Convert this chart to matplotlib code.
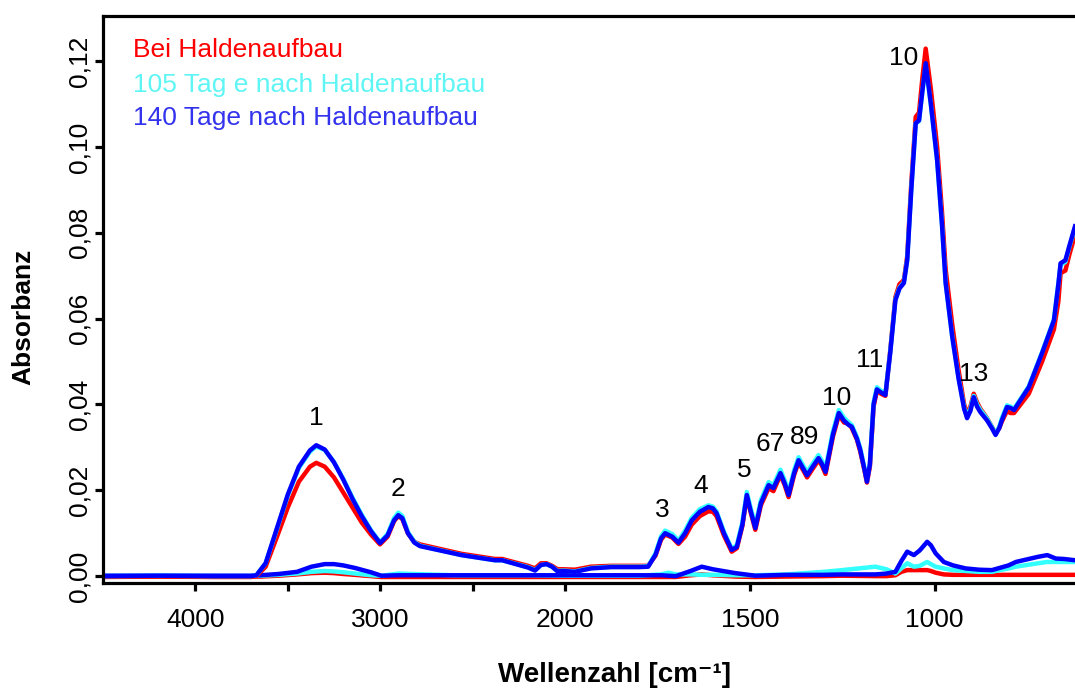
import numpy as np
import matplotlib
matplotlib.use("Agg")
import matplotlib.pyplot as plt

plt.rcParams['font.family'] = ['Liberation Sans', 'DejaVu Sans']

# ---------------- data ----------------
wn_main = [4500, 4200, 3900, 3700, 3670, 3620, 3560, 3500, 3440, 3380, 3346, 3300, 3250, 3200,
           3150, 3100, 3050, 3001, 2960, 2925, 2902, 2880, 2850, 2815, 2785, 2560, 2379, 2340,
           2200, 2162, 2130, 2100, 2070, 2040, 2010, 1973, 1930, 1875, 1800, 1775, 1755, 1740,
           1729, 1710, 1693, 1675, 1657, 1635, 1612, 1600, 1590, 1570, 1549, 1535, 1520, 1508,
           1497, 1485, 1470, 1449, 1436, 1417, 1405, 1395, 1380, 1368, 1355, 1345, 1332, 1314,
           1305, 1295, 1275, 1259, 1245, 1232, 1224, 1210, 1201, 1190, 1183, 1175, 1165, 1156,
           1145, 1133, 1120, 1106, 1095, 1083, 1074, 1063, 1051, 1042, 1033, 1024, 1010, 993,
           980, 970, 952, 935, 920, 912, 903, 894, 885, 876, 858, 845, 835, 825, 818, 804, 795,
           785, 745, 709, 677, 665, 659, 646, 635, 620]

blue_main = [0.0000, 0.0001, 0.0000, 0.0000, 0.0002, 0.0030, 0.0110, 0.0190, 0.0255, 0.0293, 0.0305, 0.0295, 0.0265, 0.0225,
             0.0180, 0.0140, 0.0105, 0.0077, 0.0095, 0.0130, 0.0142, 0.0135, 0.0100, 0.0078, 0.0070, 0.0049, 0.0037, 0.0037,
             0.0020, 0.0013, 0.0026, 0.0028, 0.0022, 0.0011, 0.0012, 0.0010, 0.0018, 0.0021, 0.0021, 0.0022, 0.0050, 0.0088,
             0.0100, 0.0092, 0.0078, 0.0100, 0.0130, 0.0150, 0.0161, 0.0158, 0.0147, 0.0100, 0.0061, 0.0068, 0.0120, 0.0189,
             0.0150, 0.0112, 0.0170, 0.0212, 0.0205, 0.0240, 0.0215, 0.0189, 0.0240, 0.0270, 0.0250, 0.0235, 0.0252, 0.0275,
             0.0262, 0.0243, 0.0330, 0.0380, 0.0362, 0.0352, 0.0348, 0.0320, 0.0294, 0.0250, 0.0220, 0.0260, 0.0400, 0.0435,
             0.0428, 0.0422, 0.0520, 0.0643, 0.0670, 0.0683, 0.0736, 0.0900, 0.1055, 0.1062, 0.1130, 0.1195, 0.1100, 0.0969,
             0.0820, 0.0683, 0.0557, 0.0460, 0.0390, 0.0368, 0.0385, 0.0417, 0.0395, 0.0382, 0.0363, 0.0345, 0.0329, 0.0345, 0.0363, 0.0394, 0.0392,
             0.0387, 0.0440, 0.0520, 0.0596, 0.0680, 0.0729, 0.0736, 0.0770, 0.0815]

cyan_main = [0.0000, 0.0001, 0.0000, 0.0000, 0.0002, 0.0030, 0.0108, 0.0188, 0.0252, 0.0290, 0.0302, 0.0294, 0.0266, 0.0227,
             0.0183, 0.0143, 0.0107, 0.0079, 0.0098, 0.0135, 0.0148, 0.0140, 0.0103, 0.0080, 0.0071, 0.0049, 0.0037, 0.0037,
             0.0021, 0.0014, 0.0026, 0.0028, 0.0022, 0.0012, 0.0013, 0.0011, 0.0019, 0.0022, 0.0022, 0.0023, 0.0053, 0.0093,
             0.0106, 0.0098, 0.0083, 0.0106, 0.0136, 0.0156, 0.0165, 0.0162, 0.0151, 0.0104, 0.0064, 0.0072, 0.0126, 0.0196,
             0.0157, 0.0118, 0.0177, 0.0219, 0.0212, 0.0248, 0.0222, 0.0195, 0.0247, 0.0277, 0.0257, 0.0242, 0.0259, 0.0282,
             0.0269, 0.0250, 0.0337, 0.0387, 0.0369, 0.0358, 0.0352, 0.0324, 0.0298, 0.0253, 0.0223, 0.0264, 0.0405, 0.0440,
             0.0432, 0.0425, 0.0522, 0.0645, 0.0672, 0.0685, 0.0738, 0.0902, 0.1055, 0.1060, 0.1128, 0.1190, 0.1098, 0.0968,
             0.0820, 0.0683, 0.0557, 0.0462, 0.0393, 0.0372, 0.0390, 0.0420, 0.0400, 0.0387, 0.0367, 0.0348, 0.0332, 0.0348, 0.0368, 0.0398, 0.0395,
             0.0390, 0.0442, 0.0522, 0.0598, 0.0682, 0.0725, 0.0732, 0.0768, 0.0812]

red_main = [-0.0002, -0.0001, -0.0002, -0.0002, 0.0000, 0.0022, 0.0090, 0.0160, 0.0220, 0.0255, 0.0264, 0.0255, 0.0230, 0.0195,
            0.0160, 0.0125, 0.0097, 0.0074, 0.0092, 0.0128, 0.0140, 0.0133, 0.0100, 0.0080, 0.0074, 0.0052, 0.0040, 0.0040,
            0.0024, 0.0018, 0.0030, 0.0030, 0.0024, 0.0016, 0.0016, 0.0015, 0.0022, 0.0024, 0.0024, 0.0024, 0.0048, 0.0085,
            0.0097, 0.0090, 0.0075, 0.0092, 0.0120, 0.0140, 0.0151, 0.0150, 0.0140, 0.0095, 0.0057, 0.0065, 0.0117, 0.0185,
            0.0147, 0.0108, 0.0165, 0.0205, 0.0198, 0.0236, 0.0211, 0.0184, 0.0236, 0.0265, 0.0246, 0.0230, 0.0247, 0.0270,
            0.0258, 0.0238, 0.0325, 0.0375, 0.0358, 0.0355, 0.0345, 0.0318, 0.0290, 0.0248, 0.0218, 0.0255, 0.0395, 0.0432,
            0.0425, 0.0420, 0.0525, 0.0650, 0.0680, 0.0690, 0.0745, 0.0915, 0.1070, 0.1080, 0.1160, 0.1229, 0.1135, 0.1000,
            0.0850, 0.0715, 0.0585, 0.0480, 0.0400, 0.0378, 0.0395, 0.0425, 0.0405, 0.0390, 0.0368, 0.0348, 0.0333, 0.0345, 0.0360, 0.0385, 0.0380,
            0.0380, 0.0425, 0.0500, 0.0575, 0.0640, 0.0706, 0.0712, 0.0750, 0.0795]

wn_low = [4500, 3700, 3650, 3550, 3450, 3372, 3300, 3250, 3200, 3136, 3050, 2994, 2900, 2600, 2200,
          2000, 1800, 1740, 1720, 1700, 1660, 1630, 1600, 1539, 1485, 1400, 1300, 1250, 1160, 1130,
          1106, 1090, 1074, 1056, 1040, 1020, 1010, 997, 975, 950, 916, 880, 845, 800, 780, 720,
          695, 672, 650, 620]

blue_low = [0.0001, 0.0001, 0.0002, 0.0005, 0.0010, 0.0022, 0.0028, 0.0028, 0.0025, 0.0019, 0.0009, 0.0001, 0.0002, 0.0002, 0.0002,
            0.0002, 0.0002, 0.0002, 0.0001, 0.0000, 0.0012, 0.0022, 0.0016, 0.0007, 0.0001, 0.0003, 0.0003, 0.0004, 0.0004, 0.0006,
            0.0010, 0.0035, 0.0057, 0.0049, 0.0060, 0.0080, 0.0072, 0.0053, 0.0033, 0.0025, 0.0018, 0.0015, 0.0014, 0.0025, 0.0033, 0.0045,
            0.0049, 0.0041, 0.0040, 0.0037]

cyan_low = [0.0000, 0.0000, 0.0001, 0.0003, 0.0006, 0.0010, 0.0012, 0.0011, 0.0009, 0.0006, 0.0002, 0.0001, 0.0006, 0.0002, 0.0002,
            0.0001, 0.0001, 0.0004, 0.0008, 0.0004, 0.0004, 0.0003, 0.0003, 0.0002, 0.0002, 0.0004, 0.0010, 0.0014, 0.0022, 0.0016,
            0.0006, 0.0018, 0.0030, 0.0022, 0.0024, 0.0033, 0.0028, 0.0022, 0.0018, 0.0014, 0.0012, 0.0010, 0.0010, 0.0018, 0.0022, 0.0030,
            0.0033, 0.0033, 0.0033, 0.0033]

red_low = [-0.0001, -0.0001, -0.0001, 0.0001, 0.0004, 0.0007, 0.0008, 0.0007, 0.0005, 0.0003, 0.0000, -0.0002, -0.0002, -0.0002, -0.0002,
           -0.0002, -0.0002, -0.0002, -0.0002, -0.0002, 0.0002, 0.0004, 0.0002, -0.0001, -0.0002, -0.0001, 0.0000, 0.0001, 0.0000, 0.0000,
           0.0002, 0.0010, 0.0014, 0.0014, 0.0014, 0.0014, 0.0012, 0.0008, 0.0004, 0.0003, 0.0003, 0.0003, 0.0003, 0.0003, 0.0003, 0.0003,
           0.0003, 0.0003, 0.0003, 0.0003]

series_names = ["Bei Haldenaufbau", "105 Tag e nach Haldenaufbau", "140 Tage nach Haldenaufbau"]

peak_labels = ["1", "2", "3", "4", "5", "67", "89", "10", "11", "13", "10"]
peak_wn = [3346, 2902, 1736, 1633, 1514, 1444, 1351, 1265, 1177, 894, 1083]
peak_abs = [0.0368, 0.0203, 0.0154, 0.0210, 0.0247, 0.0308, 0.0324, 0.0415, 0.0503, 0.0470, 0.1207]

xticks = [4000, 3500, 3000, 2500, 2000, 1500, 1000]
xtick_labels = ["4000", "", "3000", "", "2000", "1500", "1000"]
yticks = [0.00, 0.02, 0.04, 0.06, 0.08, 0.10, 0.12]
ytick_labels = ["0,00", "0,02", "0,04", "0,06", "0,08", "0,10", "0,12"]

# ---------------- plot ----------------
fig = plt.figure(figsize=(10.75, 6.91), dpi=100)
ax = fig.add_axes([103 / 1075, 108 / 691, 972 / 1075, 567 / 691])


def fwd(w):
    w = np.asarray(w, dtype=float)
    return np.where(w > 2000, 2000 + (w - 2000) / 2.0, w)


def inv(t):
    t = np.asarray(t, dtype=float)
    return np.where(t > 2000, 2000 + (t - 2000) * 2.0, t)


ax.set_xscale('function', functions=(fwd, inv))

c_red, c_cyan, c_blue = '#ff0000', '#33ffff', '#0000ff'
lw = 3.2
ax.plot(wn_low, red_low, color=c_red, lw=lw)
ax.plot(wn_low, cyan_low, color=c_cyan, lw=lw)
ax.plot(wn_low, blue_low, color=c_blue, lw=lw)
ax.plot(wn_main, red_main, color=c_red, lw=lw)
ax.plot(wn_main, cyan_main, color=c_cyan, lw=lw)
ax.plot(wn_main, blue_main, color=c_blue, lw=lw)

ax.set_xlim(4500, 620)
ax.set_ylim(-0.0016, 0.1305)

ax.set_xticks(xticks)
ax.set_xticklabels(xtick_labels)
ax.xaxis.set_minor_locator(matplotlib.ticker.NullLocator())
ax.set_yticks(yticks)
ax.set_yticklabels(ytick_labels, rotation=90, va='center')

for s in ['left', 'bottom', 'top']:
    ax.spines[s].set_linewidth(2.3)
ax.spines['right'].set_visible(False)
ax.tick_params(axis='both', direction='out', length=6, width=2.3, labelsize=19)
ax.tick_params(axis='x', pad=12)
ax.tick_params(axis='y', pad=2)

ax.set_xlabel("Wellenzahl [cm\u207b\u00b9]", fontsize=20, fontweight='bold',
              family=['Liberation Sans', 'DejaVu Sans'])
ax.xaxis.set_label_coords(0.526, -0.140)
ax.set_ylabel("Absorbanz", fontsize=19, fontweight='bold')
ax.yaxis.set_label_coords(-0.070, 0.47)

for lab, w, a in zip(peak_labels, peak_wn, peak_abs):
    ax.text(w, a, lab, fontsize=19, ha='center', va='center', color='black')

text_colors = ['#ff0000', '#5ff5f5', '#3333ee']
ypos = [0.940, 0.878, 0.820]
for name, col, yy in zip(series_names, text_colors, ypos):
    ax.text(0.031, yy, name, transform=ax.transAxes, fontsize=19, color=col,
            ha='left', va='center')

fig.savefig("out.png", dpi=100)
